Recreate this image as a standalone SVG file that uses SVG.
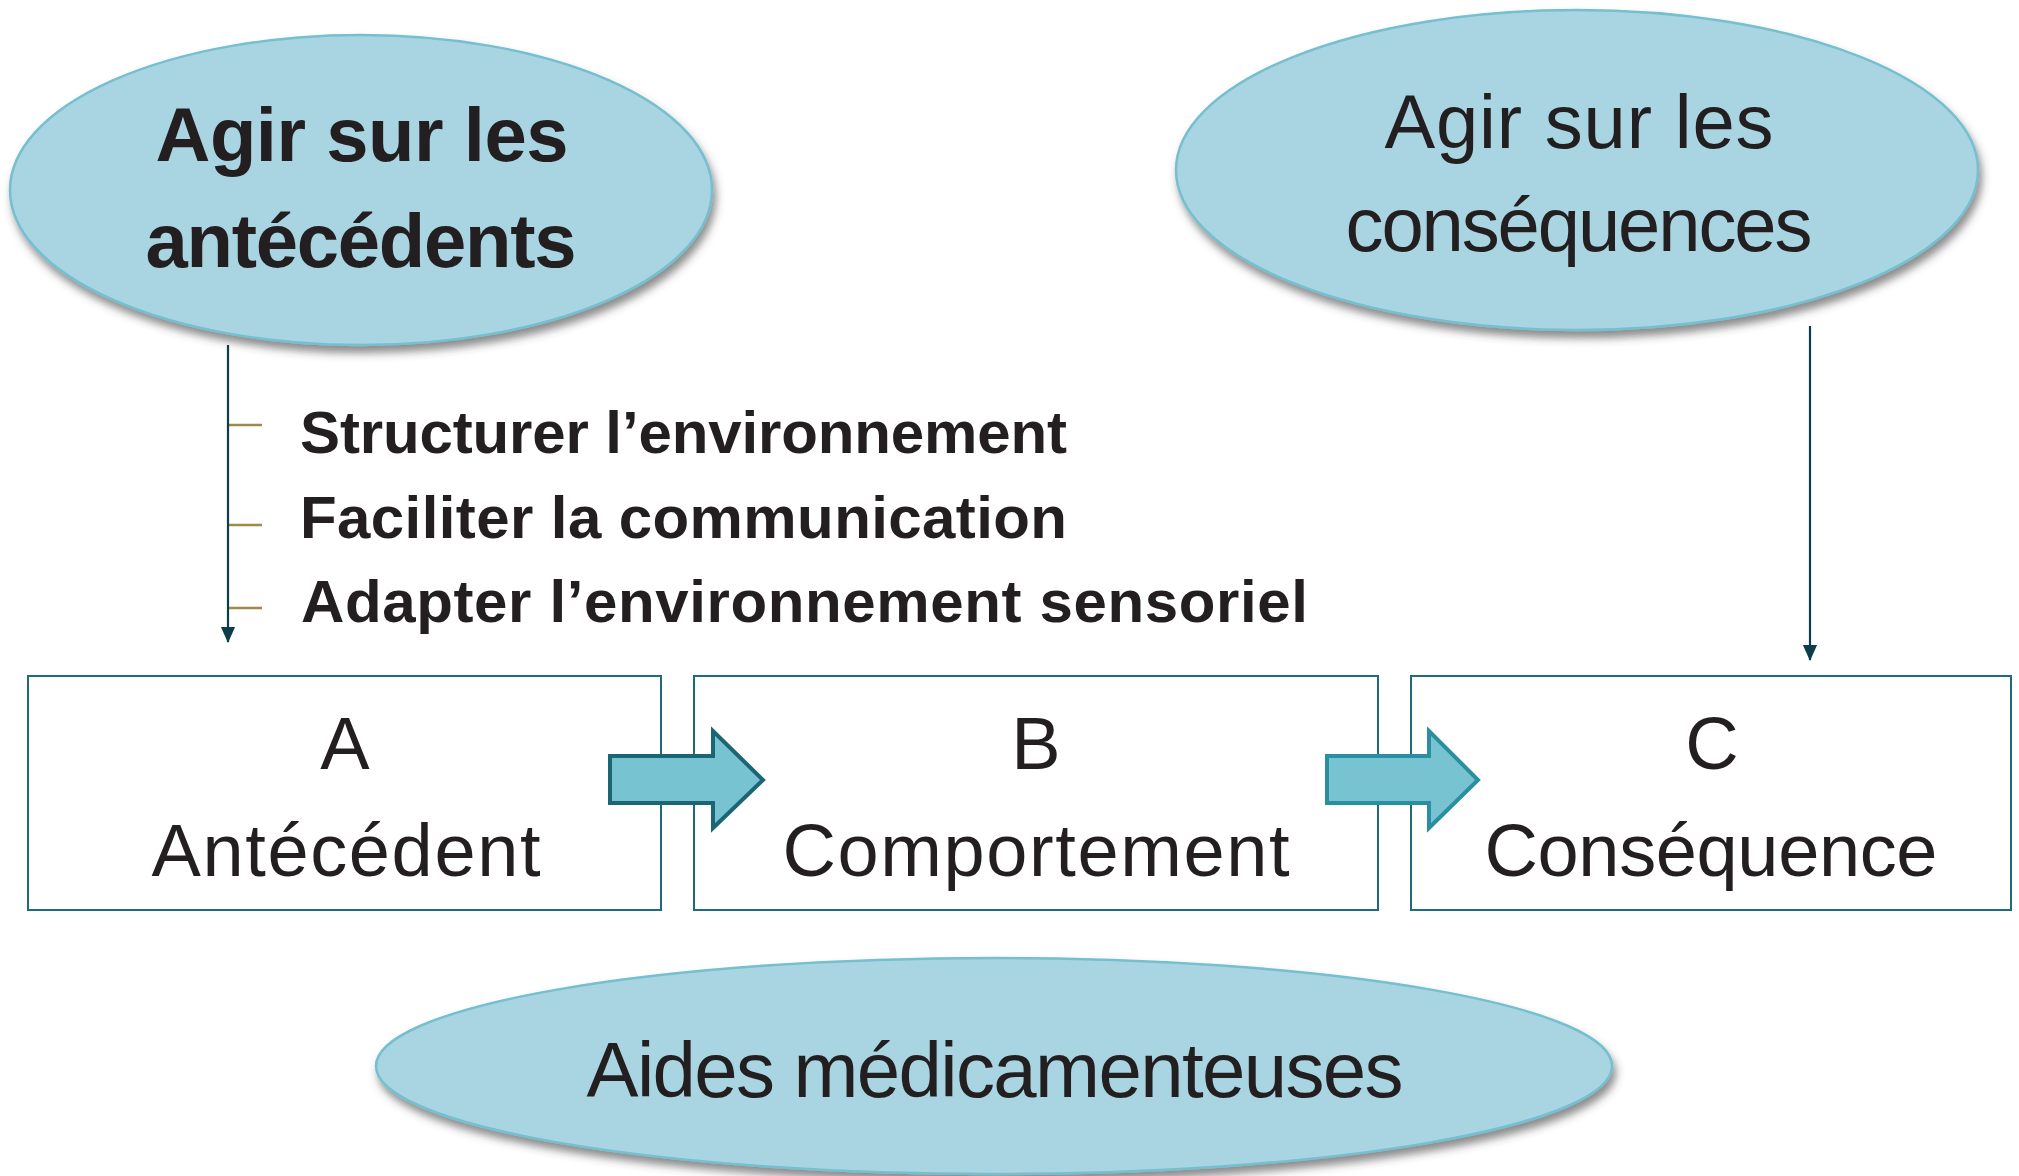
<svg xmlns="http://www.w3.org/2000/svg" width="2019" height="1176" viewBox="0 0 2019 1176">
<style>
.ell{fill:#a8d5e1;stroke:#74bfd0;stroke-width:2.5;filter:url(#sh)}
.t{font-family:"Liberation Sans",Arial,sans-serif;fill:#231f20;text-anchor:middle}
.b{font-weight:bold}
.box{fill:#fff;stroke:#1f6b7a;stroke-width:2}
.con{stroke:#0b3d4c;stroke-width:2.2;fill:none;marker-end:url(#ah)}
.tick{stroke:#a08a4a;stroke-width:2.5}
.bul{font-family:"Liberation Sans",Arial,sans-serif;fill:#231f20;font-weight:bold;font-size:60px}
</style>
<defs>
<filter id="sh" x="-10%" y="-10%" width="125%" height="130%">
<feDropShadow dx="3" dy="7" stdDeviation="4" flood-color="#404040" flood-opacity="0.6"/>
</filter>
<marker id="ah" markerWidth="16" markerHeight="18" refX="17" refY="8" orient="auto" markerUnits="userSpaceOnUse" viewBox="0 0 18 16">
<path d="M0,0 L18,8 L0,16 Z" fill="#0b3d4c"/>
</marker>
</defs>
<g id="node-antecedents">
<ellipse class="ell" cx="361" cy="190" rx="351" ry="155"/>
<text class="t b" x="362" y="161" font-size="76" textLength="413">Agir sur les</text>
<text class="t b" x="361" y="267" font-size="76" textLength="431">antécédents</text>
</g>
<g id="node-consequences">
<ellipse class="ell" cx="1577" cy="170" rx="401" ry="160"/>
<text class="t" x="1579" y="148" font-size="76" textLength="389">Agir sur les</text>
<text class="t" x="1579" y="251" font-size="76" textLength="467">conséquences</text>
</g>
<g id="node-aides">
<ellipse class="ell" cx="994" cy="1066" rx="618" ry="108"/>
<text class="t" x="995" y="1097" font-size="78" textLength="817">Aides médicamenteuses</text>
</g>
<g id="node-A">
<rect class="box" x="28" y="676" width="633" height="234"/>
<text class="t" x="345" y="769" font-size="74">A</text>
<text class="t" x="346" y="876" font-size="74" textLength="389">Antécédent</text>
</g>
<g id="node-B">
<rect class="box" x="694" y="676" width="684" height="234"/>
<text class="t" x="1036" y="769" font-size="74">B</text>
<text class="t" x="1036" y="876" font-size="74" textLength="507">Comportement</text>
</g>
<g id="node-C">
<rect class="box" x="1411" y="676" width="600" height="234"/>
<text class="t" x="1712" y="769" font-size="74">C</text>
<text class="t" x="1711" y="876" font-size="74" textLength="453">Conséquence</text>
</g>
<g id="bullets">
<line class="tick" x1="229" y1="425" x2="262" y2="425"/>
<line class="tick" x1="229" y1="525" x2="262" y2="525"/>
<line class="tick" x1="229" y1="608" x2="262" y2="608"/>
<text class="bul" x="300" y="453" textLength="767">Structurer l’environnement</text>
<text class="bul" x="300" y="538" textLength="767">Faciliter la communication</text>
<text class="bul" x="301" y="622" textLength="1007">Adapter l’environnement sensoriel</text>
</g>
<g id="connectors">
<line class="con" x1="228" y1="345" x2="228" y2="642"/>
<line class="con" x1="1810" y1="326" x2="1810" y2="660"/>
<polygon points="610,756 713,756 713,731 763,780 713,828 713,803 610,803" fill="#78c3d1" stroke="#1b6675" stroke-width="4"/>
<polygon points="1327,756 1429,756 1429,731 1478,780 1429,828 1429,803 1327,803" fill="#78c3d1" stroke="#2a8fa0" stroke-width="4"/>
</g>
</svg>
